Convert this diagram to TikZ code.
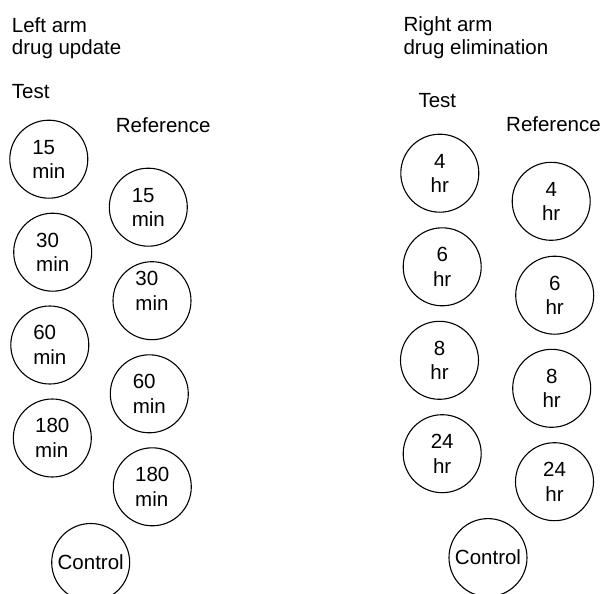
\documentclass[tikz,border=0pt]{standalone}
\usepackage{fontspec}
\setmainfont{Liberation Sans}
\begin{document}
\begin{tikzpicture}[x=1pt,y=-1pt,
  ring/.style={draw, line width=1.1pt, circle, minimum size=78pt, inner sep=0pt,
    font=\fontsize{20.5}{24.5}\selectfont},
  minring/.style={ring, align=left},
  hrring/.style={ring, align=center},
  caption/.style={anchor=base west, inner sep=0pt, font=\fontsize{20.5}{23}\selectfont}]
\useasboundingbox (0,0) rectangle (603,594);

% headings, left arm
\node[caption] (lhead1) at (11.7,32.3) {Left arm};
\node[caption] (lhead2) at (11.7,54.5) {drug update};
\node[caption] (ltest)  at (11.7,98.3) {Test};
\node[caption] (lref)   at (115.7,132.7) {Reference};

% headings, right arm
\node[caption] (rhead1) at (403.3,31.7) {Right arm};
\node[caption] (rhead2) at (403.3,55) {drug elimination};
\node[caption] (rtest)  at (418.3,107.3) {Test};
\node[caption] (rref)   at (506,131.7) {Reference};

% left arm, test sites
\node[minring] (lt15)  at (48.8,159.2) {15\\min};
\node[minring] (lt30)  at (52.7,252.2) {30\\min};
\node[minring] (lt60)  at (49.8,345)   {60\\min};
\node[minring] (lt180) at (52.3,438)   {180\\min};

% left arm, reference sites
\node[minring] (lr15)  at (148.3,207.2) {15\\min};
\node[ring]    (lr30)  at (152,300.7)   {};
\node[align=left, inner sep=0pt, font=\fontsize{20.5}{24.5}\selectfont]
  (lr30txt) at ([yshift=10pt]lr30.center) {30\\min};
\node[minring] (lr60)  at (149.3,393.8) {60\\min};
\node[minring] (lr180) at (152.3,486.8) {180\\min};

% left arm, control
\node[ring] (lctrl) at (90.7,562.5) {Control};

% right arm, test sites
\node[hrring] (rt4)  at (439.8,173.2) {4\\hr};
\node[hrring] (rt6)  at (442.2,266.8) {6\\hr};
\node[hrring] (rt8)  at (439.5,360.3) {8\\hr};
\node[hrring] (rt24) at (442.2,453.7) {24\\hr};

% right arm, reference sites
\node[hrring] (rr4)  at (551.2,201.3) {4\\hr};
\node[hrring] (rr6)  at (554.7,295.2) {6\\hr};
\node[hrring] (rr8)  at (551.7,388.3) {8\\hr};
\node[hrring] (rr24) at (554.5,481.7) {24\\hr};

% right arm, control
\node[ring] (rctrl) at (488,557.6) {Control};
\end{tikzpicture}
\end{document}
